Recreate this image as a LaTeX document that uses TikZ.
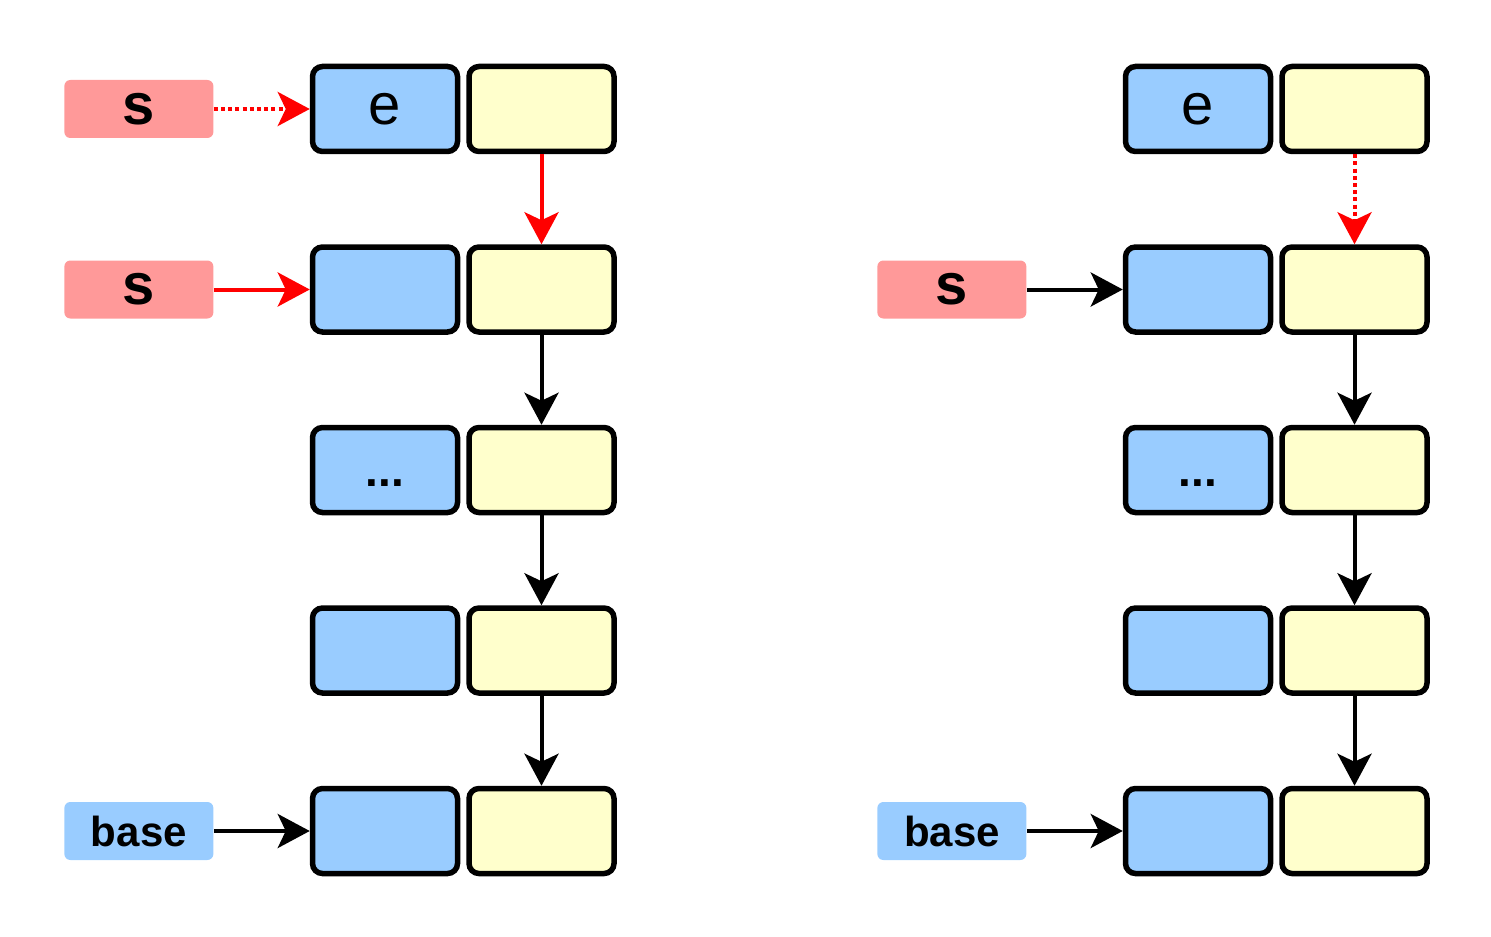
\documentclass[tikz,border=0pt]{standalone}
\usepackage{fontspec}
\setmainfont{Liberation Sans}
\usetikzlibrary{positioning,arrows.meta}

\definecolor{keyblue}{HTML}{99CCFF}
\definecolor{nextyellow}{HTML}{FFFFCC}
\definecolor{ptrred}{HTML}{FF9999}
\definecolor{linkred}{HTML}{FF0000}

\begin{document}
\begin{tikzpicture}[
keybox/.style={rectangle, draw=black, line width=2.75pt, rounded corners=5pt, fill=keyblue, minimum width=72.5pt, minimum height=42.5pt, text height=18pt, text depth=2pt, font=\fontsize{29}{32}\selectfont},
nextbox/.style={keybox, fill=nextyellow},
ptrbox/.style={rectangle, rounded corners=3pt, fill=ptrred, minimum width=74.5pt, minimum height=29pt, inner sep=0pt, font=\bfseries\fontsize{29}{32}\selectfont},
basebox/.style={ptrbox, fill=keyblue, font=\bfseries\fontsize{21}{24}\selectfont},
link/.style={line width=2pt, -{Stealth[length=16pt, width=17pt, inset=4pt]}},
]
\useasboundingbox (0,0) rectangle (745.5pt,-468pt);

%Left list
\node[keybox]   (lk1) at (192.5pt,-54.5pt) {e};
\node[nextbox]  (ln1) [right=3pt of lk1]  {};
\node[keybox]   (lk2) [below=45pt of lk1] {};
\node[nextbox]  (ln2) [right=3pt of lk2]  {};
\node[keybox]   (lk3) [below=45pt of lk2] {\bfseries\fontsize{23}{26}\selectfont ...};
\node[nextbox]  (ln3) [right=3pt of lk3]  {};
\node[keybox]   (lk4) [below=45pt of lk3] {};
\node[nextbox]  (ln4) [right=3pt of lk4]  {};
\node[keybox]   (lk5) [below=45pt of lk4] {};
\node[nextbox]  (ln5) [right=3pt of lk5]  {};

\node[ptrbox]   (ls1)   [left=48pt of lk1] {s};
\node[ptrbox]   (ls2)   [left=48pt of lk2] {s};
\node[basebox]  (lbase) [left=48pt of lk5] {base};

%Right list
\node[keybox]   (rk1) at (599pt,-54.5pt) {e};
\node[nextbox]  (rn1) [right=3pt of rk1]  {};
\node[keybox]   (rk2) [below=45pt of rk1] {};
\node[nextbox]  (rn2) [right=3pt of rk2]  {};
\node[keybox]   (rk3) [below=45pt of rk2] {\bfseries\fontsize{23}{26}\selectfont ...};
\node[nextbox]  (rn3) [right=3pt of rk3]  {};
\node[keybox]   (rk4) [below=45pt of rk3] {};
\node[nextbox]  (rn4) [right=3pt of rk4]  {};
\node[keybox]   (rk5) [below=45pt of rk4] {};
\node[nextbox]  (rn5) [right=3pt of rk5]  {};

\node[ptrbox]   (rs)    [left=48pt of rk2] {s};
\node[basebox]  (rbase) [left=48pt of rk5] {base};

%Lines
\draw[link, linkred, dash pattern=on 2pt off 1.6pt] (ls1.east) -- (lk1.west);
\draw[link, linkred] (ls2.east) -- (lk2.west);
\draw[link] (lbase.east) -- (lk5.west);
\draw[link, linkred] (ln1.south) -- (ln2.north);
\draw[link] (ln2.south) -- (ln3.north);
\draw[link] (ln3.south) -- (ln4.north);
\draw[link] (ln4.south) -- (ln5.north);

\draw[link] (rs.east) -- (rk2.west);
\draw[link] (rbase.east) -- (rk5.west);
\draw[link, linkred, dash pattern=on 2pt off 1.6pt] (rn1.south) -- (rn2.north);
\draw[link] (rn2.south) -- (rn3.north);
\draw[link] (rn3.south) -- (rn4.north);
\draw[link] (rn4.south) -- (rn5.north);

\end{tikzpicture}
\end{document}
